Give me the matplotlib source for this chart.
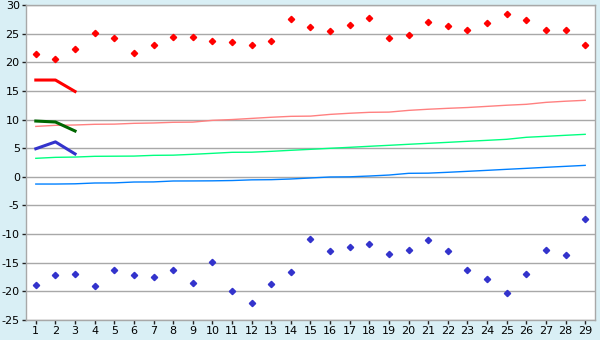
import matplotlib

matplotlib.use("Agg")

import matplotlib.pyplot as plt

plt.rcParams["axes.unicode_minus"] = False

days = list(range(1, 30))

# daily observed highs / lows (diamonds)
highs = [21.4, 20.5, 22.4, 25.1, 24.2, 21.6, 23.0, 24.5, 24.5, 23.7,
         23.5, 23.0, 23.8, 27.5, 26.1, 25.4, 26.5, 27.7, 24.2, 24.7,
         27.0, 26.3, 25.6, 26.8, 28.4, 27.3, 25.6, 25.6, 23.0]
lows = [-18.9, -17.2, -17.0, -19.1, -16.2, -17.2, -17.5, -16.2, -18.6, -14.8,
        -20.0, -22.1, -18.8, -16.7, -10.9, -13.0, -12.3, -11.8, -13.5, -12.8,
        -11.1, -13.0, -16.2, -17.9, -20.3, -16.9, -12.8, -13.7, -7.4]

# normals (thin lines)
norm_high = [8.80, 8.99, 9.05, 9.17, 9.20, 9.34, 9.40, 9.52, 9.55, 9.86,
             10.0, 10.2, 10.4, 10.56, 10.6, 10.9, 11.1, 11.26, 11.3, 11.6,
             11.8, 11.96, 12.1, 12.3, 12.5, 12.66, 13.0, 13.2, 13.36]
norm_mid = [3.23, 3.40, 3.45, 3.58, 3.60, 3.62, 3.75, 3.78, 3.93, 4.10,
            4.28, 4.30, 4.45, 4.63, 4.80, 4.98, 5.15, 5.33, 5.50, 5.68,
            5.85, 6.02, 6.20, 6.37, 6.55, 6.90, 7.07, 7.25, 7.42]
norm_low = [-1.26, -1.26, -1.22, -1.08, -1.06, -0.91, -0.89, -0.73, -0.72, -0.70,
            -0.65, -0.53, -0.50, -0.38, -0.20, -0.03, 0.0, 0.14, 0.31, 0.61,
            0.64, 0.79, 0.96, 1.13, 1.31, 1.48, 1.66, 1.83, 2.0]

# forecast (thick lines, first three days)
fc_days = [1, 2, 3]
fc_high = [16.9, 16.9, 14.9]
fc_mid = [9.74, 9.57, 8.0]
fc_low = [4.9, 6.1, 4.0]

bg = "#d9eff5"
grid_col = "#a8a8a8"

fig = plt.figure(figsize=(6, 3.4), dpi=100, facecolor=bg)
ax = fig.add_axes([26 / 600, 20 / 340, 569 / 600, 315 / 340])
ax.set_facecolor("white")

ax.plot(days, norm_high, color="#ff8080", lw=1.0)
ax.plot(days, norm_mid, color="#00ff80", lw=1.0)
ax.plot(days, norm_low, color="#0080ff", lw=1.0)

ax.plot(fc_days, fc_high, color="#ff0000", lw=2.2)
ax.plot(fc_days, fc_mid, color="#006600", lw=2.2)
ax.plot(fc_days, fc_low, color="#3333cc", lw=2.2)

ax.plot(days, highs, ls="none", marker="D", ms=3.2, color="#ff0000")
ax.plot(days, lows, ls="none", marker="D", ms=3.2, color="#3333cc")

ax.set_xlim(0.5, 29.5)
ax.set_ylim(-25, 30)
ax.set_xticks(days)
ax.set_yticks(range(-25, 31, 5))
ax.grid(axis="y", color=grid_col, lw=1)
ax.set_axisbelow(True)
for s in ax.spines.values():
    s.set_color(grid_col)
    s.set_linewidth(1)
ax.tick_params(axis="both", colors="#222222", labelsize=8, length=3, width=1,
               labelcolor="black", pad=1.5)

fig.savefig("out.png", dpi=100, facecolor=bg)
